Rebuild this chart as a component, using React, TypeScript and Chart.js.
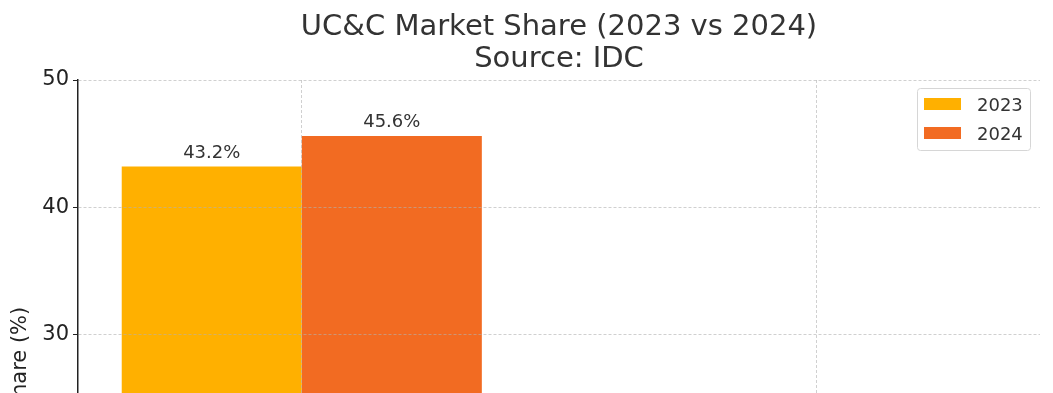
import React, { useEffect, useRef } from "react";
import { Chart, registerables } from "chart.js";

Chart.register(...registerables);

// ---- data ----
const categories = ["Microsoft", "Cisco"];
const years = ["2023", "2024"];
const share2023 = [43.2, 14.2];
const share2024 = [45.6, 12.9];
const yTickStep = 10;
const yMin = 0;
const yMax = 50;
const barColors = ["#FFB000", "#F26B22"];
const titleLines = ["UC&C Market Share (2023 vs 2024)", "Source: IDC"];
const yTitle = "Market Share (%)";

const FONT = "'DejaVu Sans', 'Liberation Sans', sans-serif";
const TEXT = "#333333";
const GRID = "rgba(176,176,176,0.6)";
const AXIS = "#222222";

const titlePlugin = {
  id: "mplTitle",
  afterDraw(chart: any) {
    const { ctx, chartArea } = chart;
    const cx = (chartArea.left + chartArea.right) / 2;
    ctx.save();
    ctx.fillStyle = TEXT;
    ctx.font = `29px ${FONT}`;
    ctx.textAlign = "center";
    ctx.textBaseline = "alphabetic";
    ctx.fillText(titleLines[0], cx, 35);
    ctx.fillText(titleLines[1], cx, 67);
    ctx.restore();
  },
};

const valueLabelPlugin = {
  id: "valueLabels",
  afterDatasetsDraw(chart: any) {
    const { ctx } = chart;
    ctx.save();
    ctx.fillStyle = TEXT;
    ctx.font = `18px ${FONT}`;
    ctx.textAlign = "center";
    ctx.textBaseline = "alphabetic";
    chart.data.datasets.forEach((ds: any, di: number) => {
      const meta = chart.getDatasetMeta(di);
      meta.data.forEach((el: any, i: number) => {
        const v = ds.data[i].y;
        ctx.fillText(`${v.toFixed(1)}%`, el.x, el.y - 8.5);
      });
    });
    ctx.restore();
  },
};

const legendPlugin = {
  id: "mplLegend",
  afterDraw(chart: any) {
    const { ctx } = chart;
    const bx = 917, by = 88, bw = 113, bh = 62;
    ctx.save();
    ctx.beginPath();
    ctx.roundRect(bx + 0.5, by + 0.5, bw, bh, 3);
    ctx.fillStyle = "rgba(255,255,255,0.85)";
    ctx.fill();
    ctx.strokeStyle = "#d6d6d6";
    ctx.lineWidth = 1;
    ctx.stroke();
    ctx.font = `18px ${FONT}`;
    ctx.textAlign = "left";
    ctx.textBaseline = "alphabetic";
    chart.data.datasets.forEach((ds: any, i: number) => {
      const rowY = 98 + i * 29;
      ctx.fillStyle = ds.backgroundColor;
      ctx.fillRect(924, rowY, 37, 12);
      ctx.fillStyle = TEXT;
      ctx.fillText(ds.label, 977, rowY + 13);
    });
    ctx.restore();
  },
};

export default function App() {
  const ref = useRef<HTMLCanvasElement>(null);

  useEffect(() => {
    const series = [share2023, share2024];
    const chart = new Chart(ref.current as HTMLCanvasElement, {
      type: "bar",
      data: {
        datasets: years.map((yr, k) => ({
          label: yr,
          data: series[k].map((v, i) => ({ x: i, y: v })),
          backgroundColor: barColors[k],
          borderWidth: 0,
          categoryPercentage: 0.7,
          barPercentage: 1.0,
        })),
      },
      options: {
        responsive: false,
        maintainAspectRatio: false,
        devicePixelRatio: 1,
        animation: false,
        layout: { padding: { top: 80, right: 13, left: 0, bottom: 0 } },
        plugins: {
          legend: { display: false },
          title: { display: false },
          tooltip: { enabled: false },
        },
        scales: {
          x: {
            type: "linear",
            bounds: "data",
            offset: false,
            min: -0.435,
            max: 1.435,
            afterBuildTicks: (s: any) => {
              s.ticks = categories.map((_, i) => ({ value: i }));
            },
            afterFit: (s: any) => {
              s.height = 60;
            },
            ticks: {
              callback: (v: any) => categories[v] ?? "",
              font: { family: FONT, size: 21 },
              color: AXIS,
              padding: 4,
            },
            grid: {
              color: GRID,
              z: 1,
              offset: false,
              tickLength: 5,
              tickColor: AXIS,
              tickBorderDash: [],
            },
            border: { dash: [3, 2], color: AXIS, width: 1.5, z: 2 },
          },
          y: {
            type: "linear",
            min: yMin,
            max: yMax,
            afterFit: (s: any) => {
              s.width = 78;
            },
            ticks: {
              stepSize: yTickStep,
              font: { family: FONT, size: 21 },
              color: AXIS,
              padding: 4,
            },
            grid: {
              color: GRID,
              z: 1,
              tickLength: 5,
              tickColor: AXIS,
              tickBorderDash: [],
            },
            border: { dash: [3, 2], color: AXIS, width: 1.5, z: 2 },
            title: {
              display: true,
              text: yTitle,
              color: AXIS,
              font: { family: FONT, size: 21 },
              padding: { top: 8, bottom: 0 },
            },
          },
        },
      },
      plugins: [titlePlugin, valueLabelPlugin, legendPlugin],
    } as any);
    return () => chart.destroy();
  }, []);

  return (
    <div
      style={{
        position: "fixed",
        left: 0,
        top: 0,
        width: 1053,
        height: 393,
        overflow: "hidden",
        background: "#ffffff",
      }}
    >
      <canvas
        ref={ref}
        width={1053}
        height={776}
        style={{ display: "block", width: 1053, height: 776 }}
      />
    </div>
  );
}
